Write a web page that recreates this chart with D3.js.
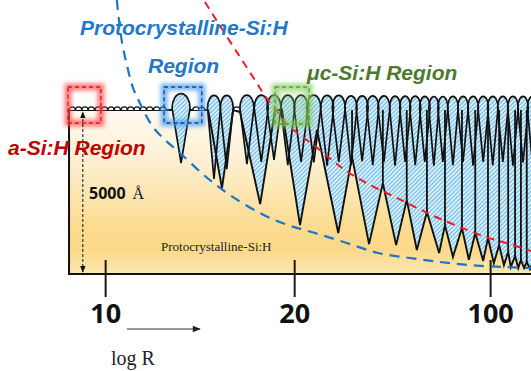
<!DOCTYPE html>
<html><head><meta charset="utf-8">
<script src="https://cdn.jsdelivr.net/npm/d3@7"></script>
<style>html,body{margin:0;padding:0;background:#fff;overflow:hidden}</style>
</head><body>
<script>
// ---------------- DATA ----------------
// lateral position in % of picture width, depth in Angstrom below the film surface
const rTicks = [10, 20, 100];
const rTickPos = [19.8, 55.4, 92.3];
const filmThickness = 5000;
const filmLeft = 13.0;
const filmRight = 100;
const thicknessArrowX = 15.6;

// small a-Si:H nuclei on the surface
const nucleiX = [13.6,14.8,16.0,17.2,18.5,19.7,20.9,22.1,23.4,24.6,25.8,27.0,28.2,29.5,30.7,36.9,38.0,44.6];

// surface columns (cones with rounded caps)
const columnX = [34.1,40.3,42.7,46.5,49.2,51.6,54.2,56.7,59.1,61.6,63.8,66.1,68.2,70.2,72.3,74.4,76.3,78.2,80.0,81.7,83.4,85.3,87.2,89.1,91.0,92.8,94.7,96.6,98.5,100.3];
const columnWidth = [3.4,2.45,2.45,2.64,2.64,2.64,2.64,2.64,2.64,2.45,2.45,2.26,2.26,2.26,2.26,2.07,2.07,2.07,1.98,1.88,1.88,1.98,1.98,1.98,1.98,1.98,1.98,1.98,1.98,1.98];
const columnTipDepth = [1620,2100,1800,1650,1580,1520,1680,1580,1600,1700,1580,1680,1560,1680,1580,1700,1580,1680,1580,1700,1580,1680,1580,1700,1580,1680,1580,1700,1600,1680];

// lower envelope of the microcrystalline cones (alternating tips and boundaries)
const envelopeX     = [39.2,41.8,43.9,45.2,49.0,51.8,53.1,56.5,59.7,63.7,66.3,69.5,72.1,74.6,76.6,78.5,80.4,82.7,83.8,85.3,87.0,88.3,89.5,91.0,91.9,93.0,94.0,94.9,95.7,96.2,97.0,97.6,98.1,98.7,99.2,99.8,100.4];
const envelopeDepth = [0,2380,0,60,2870,0,0,3510,610,3750,1430,4090,2230,4120,2740,4270,3110,4360,3510,4480,3600,4570,3750,4600,3900,4670,4120,4730,4330,4790,4450,4820,4570,4820,4630,4850,4630];

// phase boundaries (dashed curves)
const protoBoundaryX     = [22.0,22.4,23.0,23.9,25.0,26.7,28.8,31.1,33.9,38.6,43.3,49.3,54.2,59.3,65.3,71.2,77.2,82.9,88.3,94.7,100];
const protoBoundaryDepth = [-3354,-2744,-2043,-1372,-701,-91,518,915,1311,2012,2592,3171,3506,3750,4055,4360,4512,4634,4726,4787,4817];
const mcBoundaryX     = [38.6,41.8,45.2,48.0,49.9,52.0,54.2,56.5,59.3,62.5,65.5,69.7,74.4,78.2,82.1,86.6,91.5,96.0,100];
const mcBoundaryDepth = [-3293,-2470,-1616,-915,-427,0,457,762,1098,1524,1890,2287,2653,2958,3262,3567,3872,4086,4299];

// highlighted regions
const regionNames = ["a-Si:H", "Protocrystalline", "uc-Si:H"];
const regionX0 = [12.8, 30.9, 51.8];
const regionX1 = [19.0, 38.0, 58.2];
const regionD0 = [-701, -701, -701];
const regionD1 = [396, 396, 427];

// ---------------- DRAW ----------------
const W = 531, H = 371;
const svg = d3.select("body").append("svg").attr("width", W).attr("height", H);
const x = d3.scaleLinear().domain([0, 100]).range([0, W]);
const y = d3.scaleLinear().domain([0, filmThickness]).range([110, 274]);

const defs = svg.append("defs");
const grad = defs.append("linearGradient").attr("id","film").attr("x1",0).attr("x2",0).attr("y1",0).attr("y2",1);
[[0,"#fffaf1"],[0.3,"#fdf0d3"],[0.7,"#fcdc92"],[0.85,"#fbd98a"],[1,"#fde7b2"]].forEach(s=>grad.append("stop").attr("offset",s[0]).attr("stop-color",s[1]));
const pat = defs.append("pattern").attr("id","hatch").attr("patternUnits","userSpaceOnUse")
  .attr("width",3).attr("height",3).attr("patternTransform","rotate(45)");
pat.append("rect").attr("width",3).attr("height",3).attr("fill","#eef8fd");
pat.append("rect").attr("x",0).attr("y",0).attr("width",1.4).attr("height",3).attr("fill","#6fbce8");
defs.append("filter").attr("id","blur").attr("x","-50%").attr("y","-50%").attr("width","200%").attr("height","200%")
  .append("feGaussianBlur").attr("stdDeviation",2.2);
defs.append("marker").attr("id","arr").attr("viewBox","0 0 10 10").attr("refX",9).attr("refY",5)
  .attr("markerWidth",7).attr("markerHeight",7).attr("orient","auto-start-reverse").attr("markerUnits","userSpaceOnUse")
  .append("path").attr("d","M0,1 L10,5 L0,9 Z").attr("fill","#111");
defs.append("marker").attr("id","arr2").attr("viewBox","0 0 10 10").attr("refX",9).attr("refY",5)
  .attr("markerWidth",10).attr("markerHeight",8).attr("orient","auto").attr("markerUnits","userSpaceOnUse")
  .append("path").attr("d","M0,1 L10,5 L0,9 Z").attr("fill","#222");

// film body
svg.append("rect").attr("x", x(filmLeft)).attr("y", y(0)).attr("width", x(filmRight)-x(filmLeft)+5)
  .attr("height", y(filmThickness)-y(0)).attr("fill","url(#film)");

// axis ticks
const axis = d3.axisBottom(x).tickValues(rTickPos).tickFormat((d,i)=>rTicks[i]).tickSize(23).tickPadding(6);
const ag = svg.append("g").attr("transform",`translate(0,${y(filmThickness)})`).call(axis);
ag.select(".domain").remove();
ag.selectAll(".tick line").attr("y1",-14).attr("stroke","#1a1a1a").attr("stroke-width",2);
ag.selectAll(".tick text").attr("dy",null).attr("y",49).attr("fill","#111")
  .style("font-family","'Open Sans',sans-serif").style("font-weight","bold").style("font-size","27px");

// film border
svg.append("path").attr("d",`M${x(filmRight)+5},${y(0)} H${x(filmLeft)} V${y(filmThickness)} H${x(filmRight)+5}`)
  .attr("fill","none").attr("stroke","#111").attr("stroke-width",2);

// hatched cone area
const envPts = envelopeX.map((v,i)=>[x(v), y(envelopeDepth[i])]);
const hatchPoly = [[x(envelopeX[0]), y(0)], ...envPts, [x(envelopeX[envelopeX.length-1]), y(0)]];
svg.append("path").attr("d", d3.line()(hatchPoly)+"Z").attr("fill","url(#hatch)");

function colPath(i){
  const cx = x(columnX[i]), hw = (x(columnWidth[i]) - x(0))/2;
  const ty = y(columnTipDepth[i]), yw = y(0) - 2, capH = 8 + hw*0.7;
  return `M${cx},${ty} L${cx-hw},${yw} A${hw},${capH} 0 0 1 ${cx+hw},${yw} Z`;
}
const colFill = svg.append("g"), colLine = svg.append("g");
colFill.selectAll("path").data(columnX).join("path").attr("d",(d,i)=>colPath(i)).attr("fill","url(#hatch)");

// outlines
svg.append("path").attr("d", d3.line()(envPts)).attr("fill","none").attr("stroke","#111").attr("stroke-width",1.9);
const peaks = envelopeDepth.map((d,i)=>({i,d})).filter(p=>p.i>0 && p.i<envelopeDepth.length-1 && p.d>1000 &&
   p.d<envelopeDepth[p.i-1] && p.d<envelopeDepth[p.i+1]);
svg.append("g").selectAll("line").data(peaks).join("line")
  .attr("x1",p=>x(envelopeX[p.i])).attr("x2",p=>x(envelopeX[p.i]))
  .attr("y1",p=>y(p.d)).attr("y2",y(0)).attr("stroke","#111").attr("stroke-width",1.8);
colLine.selectAll("path").data(columnX).join("path").attr("d",(d,i)=>colPath(i))
  .attr("fill","none").attr("stroke","#111").attr("stroke-width",1.7);

// nuclei bumps
const r = 3.1;
svg.append("g").selectAll("path").data(nucleiX).join("path")
  .attr("d",d=>`M${x(d)-r},${y(0)} A${r},${r} 0 0 1 ${x(d)+r},${y(0)}`)
  .attr("fill","#fff").attr("stroke","#111").attr("stroke-width",1.3);

// dashed phase boundaries
const cl = d3.line().curve(d3.curveCatmullRom);
svg.append("path").attr("d", cl(protoBoundaryX.map((v,i)=>[x(v), y(protoBoundaryDepth[i])])))
  .attr("fill","none").attr("stroke","#1b75c6").attr("stroke-width",2.2).attr("stroke-dasharray","10,7");
svg.append("path").attr("d", cl(mcBoundaryX.map((v,i)=>[x(v), y(mcBoundaryDepth[i])])))
  .attr("fill","none").attr("stroke","#ee1c25").attr("stroke-width",2).attr("stroke-dasharray","8,6");

// highlight boxes
const glowCol = ["#ff4d4d","#4aa0f0","#86d160"];
const dashCol = ["#e0141c","#1d3f8a","#6b8f5a"];
const innerFill = ["none","none","rgba(140,210,100,0.3)"];
regionNames.forEach((n,i)=>{
  const bx = x(regionX0[i]), by = y(regionD0[i]), bw = x(regionX1[i])-bx, bh = y(regionD1[i])-by;
  svg.append("rect").attr("x",bx).attr("y",by).attr("width",bw).attr("height",bh)
    .attr("fill",innerFill[i]).attr("stroke",glowCol[i]).attr("stroke-width",7).attr("opacity",0.75).attr("filter","url(#blur)");
  svg.append("rect").attr("x",bx).attr("y",by).attr("width",bw).attr("height",bh)
    .attr("fill","none").attr("stroke",dashCol[i]).attr("stroke-width",1.3).attr("stroke-dasharray","4,3");
});

// thickness arrow
svg.append("line").attr("x1",x(thicknessArrowX)).attr("x2",x(thicknessArrowX))
  .attr("y1",y(filmThickness)-2).attr("y2",y(0)+2)
  .attr("stroke","#111").attr("stroke-width",1).attr("stroke-dasharray","3,2")
  .attr("marker-start","url(#arr)").attr("marker-end","url(#arr)");
const t5 = svg.append("text").attr("x",89).attr("y",199).attr("fill","#111")
  .style("font-family","'Open Sans',sans-serif").style("font-weight","bold").style("font-size","16px").text("5000");
t5.append("tspan").attr("dx",7).style("font-family","'Liberation Serif',serif").style("font-weight","normal").text("Å");

// labels
const lab = (t, xx, yy, col) => svg.append("text").attr("x",xx).attr("y",yy).attr("fill",col)
  .style("font-family","'Liberation Sans',Arial,sans-serif").style("font-weight","bold").style("font-style","italic")
  .style("font-size","21px").text(t);
lab("Protocrystalline-Si:H", 80, 35, "#1f78c8");
lab("Region", 148, 73, "#1f78c8");
lab("μc-Si:H Region", 307, 80, "#4e7a30");
lab("a-Si:H Region", 8, 155, "#c00000");

svg.append("text").attr("x",161).attr("y",251).attr("fill","#222")
  .style("font-family","'Liberation Serif',serif").style("font-size","13px").text("Protocrystalline-Si:H");

// log R arrow
svg.append("line").attr("x1",127).attr("x2",200).attr("y1",329).attr("y2",329)
  .attr("stroke","#333").attr("stroke-width",1.2).attr("marker-end","url(#arr2)");
svg.append("text").attr("x",111).attr("y",365).attr("fill","#222")
  .style("font-family","'Liberation Serif',serif").style("font-size","20px").text("log R");
</script>
</body></html>
